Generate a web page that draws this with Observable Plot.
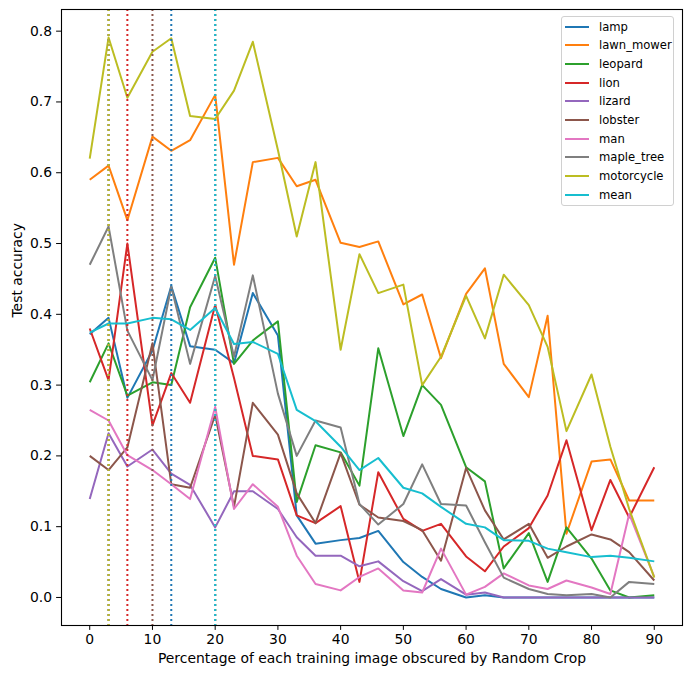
<!DOCTYPE html>
<html><head><meta charset="utf-8">
<script src="https://cdn.jsdelivr.net/npm/d3@7"></script>
<script src="https://cdn.jsdelivr.net/npm/@observablehq/plot@0.6"></script>
<style>
body{margin:0;background:#fff;}
#wrap{position:relative;width:691px;height:679px;font-family:"DejaVu Sans",sans-serif;}
#legend{position:absolute;left:561px;top:16px;width:113px;height:190px;border:1px solid #d0d0d0;border-radius:3px;background:rgba(255,255,255,0.8);box-sizing:border-box;}
.row{position:absolute;left:0;height:18px;font-size:11.6px;line-height:18px;color:#000;}
.sw{position:absolute;left:3px;top:8px;width:24px;height:2px;}
.lb{position:absolute;left:37px;top:0;white-space:nowrap;}
</style></head><body><div id="wrap"></div>
<script>
const xs = [0,3,6,10,13,16,20,23,26,30,33,36,40,43,46,50,53,56,60,63,66,70,73,76,80,83,86,90];
const names = ["lamp","lawn_mower","leopard","lion","lizard","lobster","man","maple_tree","motorcycle","mean"];
const colors = ["#1f77b4","#ff7f0e","#2ca02c","#d62728","#9467bd","#8c564b","#e377c2","#7f7f7f","#bcbd22","#17becf"];
const lamp = [0.372,0.395,0.282,0.349,0.440,0.355,0.350,0.331,0.430,0.370,0.116,0.076,0.081,0.084,0.094,0.050,0.029,0.012,0.000,0.003,0,0,0,0,0,0,0,0];
const lawn_mower = [0.590,0.610,0.533,0.651,0.631,0.646,0.710,0.470,0.615,0.621,0.581,0.590,0.501,0.495,0.503,0.414,0.428,0.338,0.429,0.465,0.330,0.283,0.398,0.090,0.192,0.195,0.137,0.137];
const leopard = [0.304,0.359,0.285,0.304,0.300,0.410,0.480,0.330,0.363,0.390,0.135,0.215,0.205,0.158,0.352,0.228,0.300,0.272,0.184,0.164,0.041,0.091,0.022,0.099,0.055,0.010,0.000,0.003];
const lion = [0.380,0.307,0.500,0.243,0.317,0.275,0.413,0.310,0.200,0.195,0.116,0.105,0.129,0.022,0.177,0.111,0.094,0.104,0.058,0.037,0.072,0.098,0.144,0.222,0.095,0.166,0.113,0.184];
const lizard = [0.139,0.232,0.185,0.209,0.175,0.159,0.099,0.150,0.150,0.125,0.085,0.059,0.059,0.044,0.051,0.023,0.009,0.026,0.004,0.007,0,0,0,0,0,0,0,0];
const lobster = [0.200,0.180,0.212,0.359,0.160,0.155,0.258,0.128,0.275,0.230,0.147,0.105,0.204,0.131,0.113,0.108,0.095,0.052,0.183,0.123,0.082,0.104,0.056,0.072,0.089,0.082,0.064,0.024];
const man = [0.265,0.250,0.201,0.180,0.160,0.139,0.269,0.125,0.160,0.128,0.059,0.019,0.010,0.029,0.041,0.010,0.007,0.069,0.004,0.015,0.034,0.017,0.012,0.024,0.014,0.005,0.118,0.029];
const maple_tree = [0.470,0.524,0.377,0.307,0.439,0.330,0.454,0.340,0.455,0.288,0.200,0.250,0.240,0.132,0.103,0.132,0.188,0.132,0.130,0.078,0.028,0.012,0.005,0.003,0.005,0.000,0.022,0.019];
const motorcycle = [0.620,0.791,0.706,0.771,0.790,0.680,0.676,0.716,0.785,0.632,0.510,0.615,0.350,0.485,0.430,0.442,0.300,0.340,0.426,0.366,0.456,0.413,0.354,0.235,0.315,0.213,0.125,0.028];
const mean = [0.374,0.387,0.387,0.395,0.393,0.378,0.409,0.358,0.361,0.344,0.265,0.249,0.213,0.180,0.197,0.155,0.147,0.128,0.104,0.099,0.081,0.080,0.069,0.064,0.057,0.059,0.056,0.051];
const xTicks = [0,10,20,30,40,50,60,70,80,90];
const yTicks = [0.0,0.1,0.2,0.3,0.4,0.5,0.6,0.7,0.8];
const xLabel = "Percentage of each training image obscured by Random Crop";
const yLabel = "Test accuracy";

const series = {lamp, lawn_mower, leopard, lion, lizard, lobster, man, maple_tree, motorcycle, mean};
const rows = [];
const peaks = [];
for (const n of names) {
  const v = series[n];
  v.forEach((y, i) => rows.push({name: n, x: xs[i], y}));
  const im = d3.maxIndex(v);
  peaks.push({name: n, x: xs[im]});
}

const chart = Plot.plot({
  width: 691, height: 679,
  marginLeft: 61, marginRight: 9, marginTop: 9, marginBottom: 54,
  style: {fontFamily: "DejaVu Sans, sans-serif", fontSize: "13.9px", color: "#000", background: "#fff", overflow: "visible"},
  x: {domain: [-4.5, 94.5]},
  y: {domain: [-0.0396, 0.8306]},
  color: {domain: names, range: colors},
  marks: [
    Plot.lineY(rows, {x: "x", y: "y", z: "name", stroke: "name", strokeWidth: 2, strokeLinejoin: "round", strokeLinecap: "butt"}),
    Plot.ruleX(peaks, {x: "x", stroke: "name", strokeWidth: 2, strokeDasharray: "2,3"}),
    Plot.frame({stroke: "#000", strokeWidth: 1.1}),
    Plot.axisX({ticks: xTicks, tickSize: 4.9, tickPadding: 4, label: null, fontSize: 13.9}),
    Plot.axisY({ticks: yTicks, tickFormat: d3.format(".1f"), tickSize: 4.9, tickPadding: 4.5, label: null, fontSize: 13.9}),
    Plot.text([xLabel], {text: d => d, frameAnchor: "bottom", dy: 37, fontSize: 13.9}),
    Plot.text([yLabel], {text: d => d, frameAnchor: "left", rotate: -90, dx: -44, fontSize: 13.9})
  ]
});
const wrap = document.getElementById("wrap");
wrap.appendChild(chart);

const legend = document.createElement("div");
legend.id = "legend";
names.forEach((n, i) => {
  const r = document.createElement("div");
  r.className = "row";
  r.style.top = (0.5 + 18.7 * i) + "px";
  r.style.width = "100%";
  const s = document.createElement("div");
  s.className = "sw";
  s.style.background = colors[i];
  const l = document.createElement("div");
  l.className = "lb";
  l.textContent = n;
  r.appendChild(s); r.appendChild(l);
  legend.appendChild(r);
});
wrap.appendChild(legend);
</script>
</body></html>
